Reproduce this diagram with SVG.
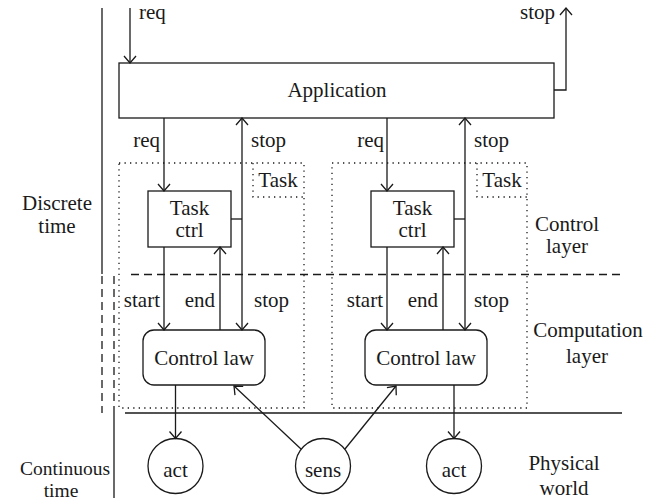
<svg xmlns="http://www.w3.org/2000/svg" width="648" height="502" viewBox="0 0 648 502">
<style>
.t text{font-size:21px;fill:#1a1a1a}
.t text.s{font-size:19.5px}
.m{text-anchor:middle}
.e{text-anchor:end}
.ln{stroke:#1a1a1a;stroke-width:1.3;fill:none}
.box{stroke:#1a1a1a;stroke-width:1.3;fill:#fff}
.dot{stroke:#1a1a1a;stroke-width:1.3;fill:none;stroke-dasharray:1.3 4.2}
.dash{stroke:#1a1a1a;stroke-width:1.3;fill:none;stroke-dasharray:8 5}
.ar{marker-end:url(#ah)}
</style>
<defs>
<marker id="ah" viewBox="-9 -7 10 14" refX="0" refY="0" markerWidth="10" markerHeight="14" markerUnits="userSpaceOnUse" orient="auto">
<path d="M-7,-6 L0,0 L-7,6" fill="none" stroke="#1a1a1a" stroke-width="1.3"/>
</marker>
</defs>
<g class="t" font-family="'Liberation Serif', 'DejaVu Serif', serif">
<g id="frame">
<line class="ln" x1="102" y1="8" x2="102" y2="274"/>
<line class="dash" x1="102" y1="276" x2="102" y2="413"/>
<line class="dash" x1="114" y1="276" x2="114" y2="408"/>
<line class="ln" x1="114" y1="408" x2="114" y2="498"/>
<line class="dash" x1="131" y1="274.5" x2="622" y2="274.5"/>
<line class="ln" x1="125" y1="413" x2="622" y2="413"/>
<text class="m" x="57" y="210">Discrete</text>
<text class="m" x="57" y="233">time</text>
<text class="e s" x="110" y="475">Continuous</text>
<text class="m s" x="61" y="497">time</text>
<text class="m" x="567" y="231">Control</text>
<text class="m" x="567" y="253">layer</text>
<text class="m" x="588" y="337">Computation</text>
<text class="m" x="587" y="363">layer</text>
<text class="m" x="564" y="470">Physical</text>
<text class="m" x="564" y="495">world</text>
</g>

<g id="task1">
<rect class="dot" x="119" y="163" width="185" height="245"/>
<polyline class="dot" points="253,163 253,197 304,197"/>
<text class="m" x="278" y="187">Task</text>
</g>
<g id="task2">
<rect class="dot" x="332" y="163" width="195" height="245"/>
<polyline class="dot" points="477,163 477,197 527,197"/>
<text class="m" x="502" y="187">Task</text>
</g>

<g id="application">
<rect class="box" x="119" y="63" width="435" height="55"/>
<text class="m" x="337" y="97">Application</text>
</g>

<g id="taskctrl1">
<rect class="box" x="148" y="191" width="83" height="56"/>
<text class="m" x="189.5" y="215">Task</text>
<text class="m" x="189.5" y="237">ctrl</text>
</g>
<g id="taskctrl2">
<rect class="box" x="371" y="191" width="83" height="56"/>
<text class="m" x="412.5" y="215">Task</text>
<text class="m" x="412.5" y="237">ctrl</text>
</g>

<g id="controllaw1">
<rect class="box" x="143" y="330" width="122" height="55" rx="11"/>
<text class="m" x="204" y="365">Control law</text>
</g>
<g id="controllaw2">
<rect class="box" x="365" y="330" width="122" height="55" rx="11"/>
<text class="m" x="426" y="365">Control law</text>
</g>

<g id="act1">
<circle class="box" cx="175.5" cy="466" r="27.5"/>
<text class="m" x="175.5" y="477">act</text>
</g>
<g id="sens">
<circle class="box" cx="323" cy="466" r="27.5"/>
<text class="m" x="323" y="477">sens</text>
</g>
<g id="act2">
<circle class="box" cx="454" cy="466" r="27.5"/>
<text class="m" x="454" y="477">act</text>
</g>

<g id="connectors">
<line class="ln ar" x1="130" y1="8" x2="130" y2="63"/>
<text x="139" y="19">req</text>
<polyline class="ln ar" points="554,90 566,90 566,8"/>
<text class="e" x="555" y="19">stop</text>

<line class="ln ar" x1="164" y1="118" x2="164" y2="191"/>
<text class="e" x="160" y="147">req</text>
<line class="ln ar" x1="242" y1="219" x2="242" y2="118"/>
<line class="ln ar" x1="242" y1="219" x2="242" y2="330"/>
<line class="ln" x1="231" y1="219" x2="242" y2="219"/>
<text x="251" y="147">stop</text>
<line class="ln ar" x1="164" y1="247" x2="164" y2="330"/>
<line class="ln ar" x1="220" y1="330" x2="220" y2="247"/>
<text class="e" x="160" y="307">start</text>
<text class="e" x="215" y="307">end</text>
<text x="254" y="307">stop</text>

<line class="ln ar" x1="387" y1="118" x2="387" y2="191"/>
<text class="e" x="384" y="147">req</text>
<line class="ln ar" x1="465" y1="219" x2="465" y2="118"/>
<line class="ln ar" x1="465" y1="219" x2="465" y2="330"/>
<line class="ln" x1="454" y1="219" x2="465" y2="219"/>
<text x="474" y="147">stop</text>
<line class="ln ar" x1="387" y1="247" x2="387" y2="330"/>
<line class="ln ar" x1="443" y1="330" x2="443" y2="247"/>
<text class="e" x="383" y="307">start</text>
<text class="e" x="438" y="307">end</text>
<text x="474" y="307">stop</text>

<line class="ln ar" x1="175.5" y1="385" x2="175.5" y2="438.5"/>
<line class="ln ar" x1="454" y1="385" x2="454" y2="438.5"/>
<line class="ln ar" x1="301" y1="449" x2="234" y2="386"/>
<line class="ln ar" x1="345" y1="449" x2="396" y2="386"/>
</g>
</g>
</svg>
